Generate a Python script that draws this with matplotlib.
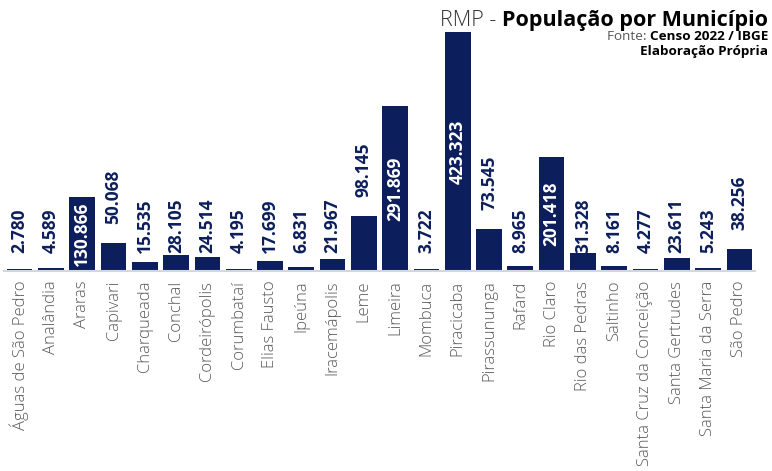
import numpy as np
import matplotlib.pyplot as plt

# ==================================================
# Data
# ==================================================
municipios = [
    "Águas de São Pedro", "Analândia", "Araras", "Capivari", "Charqueada",
    "Conchal", "Cordeirópolis", "Corumbataí", "Elias Fausto", "Ipeúna",
    "Iracemápolis", "Leme", "Limeira", "Mombuca", "Piracicaba",
    "Pirassununga", "Rafard", "Rio Claro", "Rio das Pedras", "Saltinho",
    "Santa Cruz da Conceição", "Santa Gertrudes", "Santa Maria da Serra",
    "São Pedro",
]
populacao = [
    2780, 4589, 130866, 50068, 15535,
    28105, 24514, 4195, 17699, 6831,
    21967, 98145, 291869, 3722, 423323,
    73545, 8965, 201418, 31328, 8161,
    4277, 23611, 5243, 38256,
]

NAVY = "#0c1f5c"
GRAY = "#5a5a5a"
FONT = "Open Sans"

# ==================================================
# Figure
# ==================================================
W, H = 772, 471
fig = plt.figure(figsize=(W / 100, H / 100), dpi=100)
ax = fig.add_axes([4 / W, 1 - 271 / H, 751 / W, 239 / H])

x = np.arange(len(municipios))
vals = np.array(populacao)
ax.bar(x, vals, width=0.82, color=NAVY, edgecolor="none", zorder=2)

ymax = vals.max()
ax.set_ylim(0, ymax)
ax.set_xlim(-0.5, len(municipios) - 0.5)

px = ymax / 238.0  # data units per pixel
for xi, v in zip(x, vals):
    lbl = f"{v:,}".replace(",", ".")
    if v > 120000:
        ax.text(xi, v / 2, lbl, rotation=90, ha="center", va="center",
                color="white", fontsize=12.5, fontweight="bold", family=FONT)
    else:
        y = 18 * px if v < 35000 else v + 19 * px
        ax.text(xi, y, lbl, rotation=90, ha="center", va="bottom",
                color=NAVY, fontsize=12.5, fontweight="bold", family=FONT)

ax.set_xticks(x)
ax.set_xticklabels(municipios, rotation=90, fontsize=12, color=GRAY,
                   family=FONT, fontweight="light")
ax.tick_params(axis="x", length=0, pad=7)
ax.set_yticks([])
for s in ["top", "right", "left"]:
    ax.spines[s].set_visible(False)
ax.spines["bottom"].set_color("#d3d6e0")
ax.spines["bottom"].set_linewidth(1.5)

# ==================================================
# Title block
# ==================================================
t1 = fig.text(768 / W, 1 - 26 / H, "População por Município", ha="right",
              va="baseline", fontsize=15.5, fontweight="bold", color="black",
              family=FONT)
fig.canvas.draw()
bb = t1.get_window_extent()
fig.text(bb.x0 / W, 1 - 26 / H, "RMP - ", ha="right", va="baseline",
         fontsize=15.5, fontweight="light", color="#333333", family=FONT)

t2 = fig.text(768 / W, 1 - 40 / H, "Censo 2022 / IBGE", ha="right",
              va="baseline", fontsize=9.7, fontweight="bold", color="black",
              family=FONT)
fig.canvas.draw()
bb = t2.get_window_extent()
fig.text(bb.x0 / W, 1 - 40 / H, "Fonte: ", ha="right", va="baseline",
         fontsize=9.7, color="#555555", family=FONT)
fig.text(768 / W, 1 - 55 / H, "Elaboração Própria", ha="right",
         va="baseline", fontsize=9.7, fontweight="bold", color="black",
         family=FONT)

fig.savefig("out.png", dpi=100, facecolor="white")
